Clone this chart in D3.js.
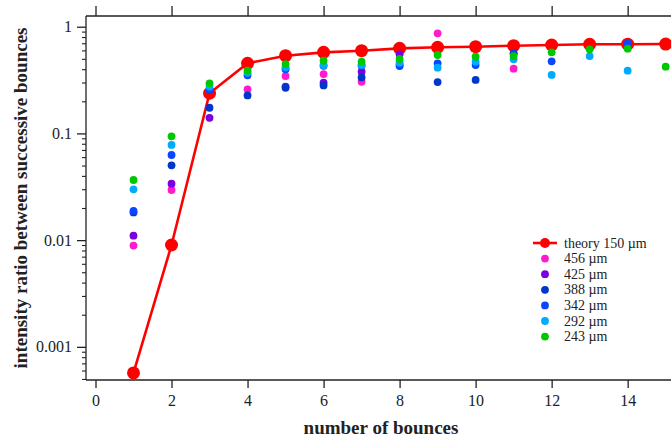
<!DOCTYPE html>
<html>
<head>
<meta charset="utf-8">
<script src="https://cdn.jsdelivr.net/npm/d3@7"></script>
<style>
  html, body { margin: 0; padding: 0; background: #fff; }
  svg { display: block; }
</style>
</head>
<body>
<svg id="chart" width="671" height="440"></svg>
<script>
// bounce number for each column
const bounces = [1, 2, 3, 4, 5, 6, 7, 8, 9, 10, 11, 12, 13, 14, 15];

// theoretical ratio for a 150 µm particle
const theory150 = [0.00057, 0.009, 0.238, 0.454, 0.535, 0.575, 0.596, 0.627, 0.641, 0.65, 0.664, 0.674, 0.684, 0.686, 0.688];

// measured ratios per particle size (null = no measurement)
const d456 = [0.0089, 0.0295, null, 0.259, 0.345, 0.36, 0.305, null, 0.867, null, 0.404, null, null, null, null];
const d425 = [0.011, 0.0338, 0.140, null, 0.275, 0.299, 0.379, 0.551, null, null, null, null, null, null, null];
const d388 = [0.0182, 0.0502, 0.174, 0.227, 0.268, 0.282, 0.335, 0.44, 0.303, 0.317, 0.563, null, null, null, null];
const d342 = [0.0188, 0.0628, 0.255, 0.35, 0.40, 0.43, 0.43, 0.428, 0.454, 0.437, 0.56, 0.474, null, 0.70, null];
const d292 = [0.0299, 0.078, 0.274, 0.37, 0.416, 0.437, 0.437, 0.46, 0.413, 0.47, 0.495, 0.353, 0.531, 0.387, null];
const d243 = [0.0366, 0.094, 0.295, 0.387, 0.447, 0.48, 0.47, 0.498, 0.543, 0.523, 0.531, 0.575, 0.614, 0.622, 0.422];

const seriesNames = ["456 µm", "425 µm", "388 µm", "342 µm", "292 µm", "243 µm"];
const seriesData = [d456, d425, d388, d342, d292, d243];
const seriesColors = ["#ff1acd", "#7a00e0", "#0036cc", "#0a46ff", "#00aaff", "#00c800"];

const xTicks = [0, 2, 4, 6, 8, 10, 12, 14];
const yMajor = [0.001, 0.01, 0.1, 1];
const yMajorLabels = ["0.001", "0.01", "0.1", "1"];

const FONT = "'Liberation Serif', 'Times New Roman', Times, serif";
const INK = "#222";

const svg = d3.select("#chart");
const plotL = 86, plotR = 671, plotT = 16, plotB = 380;

const x = d3.scaleLinear().domain([-0.25, 15.14]).range([plotL, plotR]);
const y = d3.scaleLog().domain([0.000489, 1.26]).range([plotB, plotT]);

// frame lines
svg.append("line").attr("x1", plotL).attr("x2", plotL).attr("y1", plotT).attr("y2", plotB)
  .attr("stroke", INK).attr("stroke-width", 1.3);
svg.append("line").attr("x1", plotL).attr("x2", plotR).attr("y1", plotB).attr("y2", plotB)
  .attr("stroke", INK).attr("stroke-width", 1.3);
svg.append("line").attr("x1", plotL).attr("x2", plotR).attr("y1", plotT).attr("y2", plotT)
  .attr("stroke", INK).attr("stroke-width", 1.3);

// bottom axis
const xAxis = d3.axisBottom(x).tickValues(xTicks).tickSize(8).tickPadding(7).tickFormat(d3.format("d"));
const gx = svg.append("g").attr("transform", `translate(0,${plotB})`).call(xAxis);
gx.select(".domain").remove();
gx.selectAll("line").attr("stroke", INK).attr("stroke-width", 1.3);
gx.selectAll("text").style("font-size", "16px");

// top axis ticks (no labels)
const gxt = svg.append("g").attr("transform", `translate(0,${plotT})`)
  .call(d3.axisTop(x).tickValues(xTicks).tickSize(10).tickFormat(""));
gxt.select(".domain").remove();
gxt.selectAll("line").attr("stroke", INK).attr("stroke-width", 1.3);

// left axis: minor ticks
const yMinor = [];
for (let e = -4; e <= 0; e++) {
  for (let m = 2; m <= 9; m++) {
    const v = m * Math.pow(10, e);
    if (v >= y.domain()[0] && v <= y.domain()[1]) yMinor.push(v);
  }
}
const gyMinor = svg.append("g").attr("transform", `translate(${plotL},0)`)
  .call(d3.axisLeft(y).tickValues(yMinor).tickSize(4).tickFormat(""));
gyMinor.select(".domain").remove();
gyMinor.selectAll("line").attr("stroke", INK).attr("stroke-width", 1.1);

const gy = svg.append("g").attr("transform", `translate(${plotL},0)`)
  .call(d3.axisLeft(y).tickValues(yMajor).tickSize(9).tickPadding(5)
    .tickFormat((d, i) => yMajorLabels[i]));
gy.select(".domain").remove();
gy.selectAll("line").attr("stroke", INK).attr("stroke-width", 1.3);
gy.selectAll("text").style("font-size", "16px");

// axis titles
svg.append("text").attr("x", 381).attr("y", 434).attr("text-anchor", "middle")
  .style("font-size", "19px").style("font-weight", "bold").text("number of bounces");
svg.append("text").attr("transform", "translate(27,198) rotate(-90)").attr("text-anchor", "middle")
  .style("font-size", "19px").style("font-weight", "bold")
  .text("intensity ratio between successive bounces");

// theory curve
const theoryPts = bounces.map((b, i) => ({ b, v: theory150[i] }));
const line = d3.line().x(d => x(d.b)).y(d => y(d.v));
svg.append("path").datum(theoryPts).attr("d", line)
  .attr("fill", "none").attr("stroke", "#ff0000").attr("stroke-width", 2.6);
svg.append("g").selectAll("circle").data(theoryPts).join("circle")
  .attr("cx", d => x(d.b)).attr("cy", d => y(d.v)).attr("r", 6.5).attr("fill", "#ff0000");

// measured points
seriesData.forEach((arr, si) => {
  const pts = bounces.map((b, i) => ({ b, v: arr[i] })).filter(d => d.v != null);
  svg.append("g").selectAll("circle").data(pts).join("circle")
    .attr("cx", d => x(d.b)).attr("cy", d => y(d.v)).attr("r", 3.9)
    .attr("fill", seriesColors[si]);
});

// legend
const lg = svg.append("g");
const lx = 545, ly0 = 243, dy = 15.6;
lg.append("line").attr("x1", lx - 12).attr("x2", lx + 12).attr("y1", ly0).attr("y2", ly0)
  .attr("stroke", "#ff0000").attr("stroke-width", 2.6);
lg.append("circle").attr("cx", lx).attr("cy", ly0).attr("r", 5).attr("fill", "#ff0000");
lg.append("text").attr("x", 564).attr("y", ly0 + 4.5).style("font-size", "14px").text("theory 150 µm");
seriesNames.forEach((name, i) => {
  const yy = ly0 + dy * (i + 1);
  lg.append("circle").attr("cx", lx).attr("cy", yy).attr("r", 3.9).attr("fill", seriesColors[i]);
  lg.append("text").attr("x", 564).attr("y", yy + 4.5).style("font-size", "14px").text(name);
});

// one typeface for every label
svg.selectAll("text").style("font-family", FONT).attr("fill", INK);
</script>
</body>
</html>
